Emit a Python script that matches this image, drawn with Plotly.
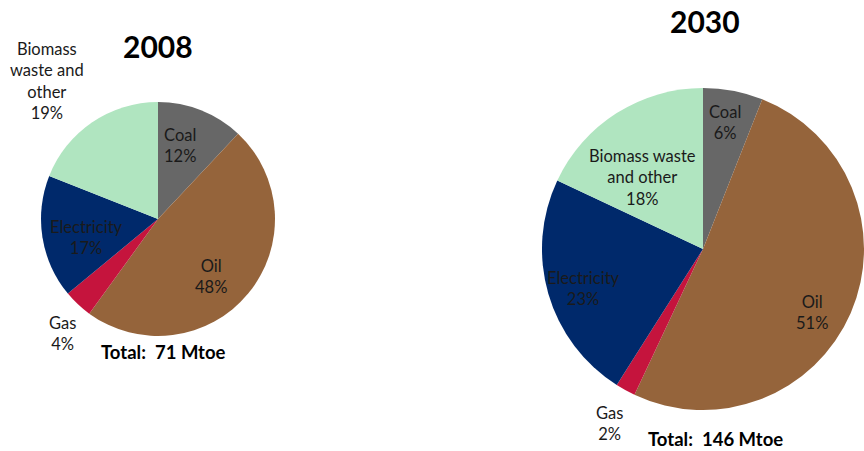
import plotly.graph_objects as go

sectors = ["Coal", "Oil", "Gas", "Electricity", "Biomass waste and other"]
share_2008 = [12, 48, 4, 17, 19]
share_2030 = [6, 51, 2, 23, 18]
total_2008 = 71
total_2030 = 146
colors = ["#676767", "#95643B", "#C5143D", "#00296B", "#B0E5C0"]

W, H = 864, 451
FONT = "Lato, Carlito, Calibri, sans-serif"


def px(x, y):
    return x / W, 1 - y / H


def dom(cx, cy, r):
    x0, y1 = px(cx - r, cy - r)
    x1, y0 = px(cx + r, cy + r)
    return dict(x=[max(x0, 0), min(x1, 1)], y=[max(y0, 0), min(y1, 1)])


fig = go.Figure()
fig.add_trace(go.Pie(labels=sectors, values=share_2008, sort=False, direction="clockwise",
                     rotation=0, marker=dict(colors=colors, line=dict(width=0)),
                     textinfo="none", hoverinfo="label+percent", showlegend=False,
                     domain=dom(158, 219, 117)))
fig.add_trace(go.Pie(labels=sectors, values=share_2030, sort=False, direction="clockwise",
                     rotation=0, marker=dict(colors=colors, line=dict(width=0)),
                     textinfo="none", hoverinfo="label+percent", showlegend=False,
                     domain=dom(704, 249, 162)))

# label text and positions (pixel centres)
lab_2008 = ["Coal", "Oil", "Gas", "Electricity", "Biomass<br>waste and<br>other"]
pos_2008 = [(180, 145), (211, 276), (62, 333), (86, 237), (47, 81)]
lab_2030 = ["Coal", "Oil", "Gas", "Electricity", "Biomass waste<br>and other"]
pos_2030 = [(725, 122), (812, 312), (609, 423), (583, 288), (642, 177)]

anns = []
for labs, vals, pos in [(lab_2008, share_2008, pos_2008), (lab_2030, share_2030, pos_2030)]:
    for lab, v, (x, y) in zip(labs, vals, pos):
        xx, yy = px(x, y)
        anns.append(dict(x=xx, y=yy, xref="paper", yref="paper", showarrow=False,
                         xanchor="center", yanchor="middle",
                         text=f"{lab}<br>{v}%", align="center",
                         font=dict(family=FONT, size=16.5, color="#1a1a1a")))

for txt, (x, y), size in [("2008", (158, 46), 30), ("2030", (705, 21), 30),
                          (f"Total:  {total_2008} Mtoe", (163, 352), 18.5),
                          (f"Total:  {total_2030} Mtoe", (715, 439), 18.5)]:
    xx, yy = px(x, y)
    anns.append(dict(x=xx, y=yy, xref="paper", yref="paper", showarrow=False,
                     xanchor="center", yanchor="middle",
                     text=f"<b>{txt}</b>", font=dict(family=FONT, size=size, color="black")))

fig.update_layout(width=W, height=H, margin=dict(l=0, r=0, t=0, b=0),
                  paper_bgcolor="white", plot_bgcolor="white",
                  annotations=anns, font=dict(family=FONT))

fig.write_html("out.html", config={"displayModeBar": False},
               post_script="document.body.style.margin='0px';")
